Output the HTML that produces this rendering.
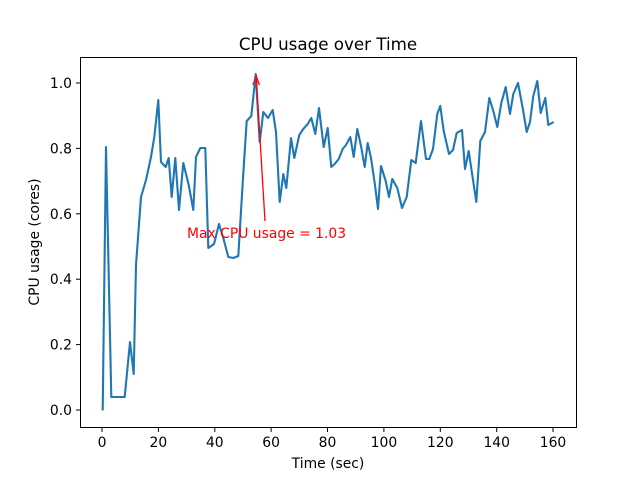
<!DOCTYPE html>
<html><head><style>body{margin:0;background:#fff}svg{display:block}text{font-family:"DejaVu Sans",sans-serif}</style></head><body>
<svg width="640" height="480" viewBox="0 0 640 480" xmlns="http://www.w3.org/2000/svg">
<rect width="640" height="480" fill="#fff"/>
<text x="328" y="50" font-size="16.7" text-anchor="middle">CPU usage over Time</text>
<polyline fill="none" stroke="#1f77b4" stroke-width="2.1" stroke-linejoin="round" stroke-linecap="butt" points="102.7,410.5 106,147 111.3,397 120,397 124.7,397 130,342 133.7,374 136,265 141,197 146,180 151,157 154.3,137 158.3,100 161,162 165.7,167 168.7,158 171.7,197 175.3,158 179,210 183.3,163 188.7,185 193.3,210 196,157 200.3,148 205.3,148 208.3,248 214,244 219,224 223.3,238 228.3,257 233.3,258 238.3,256 242.7,183 246.7,121 251.3,116 255.7,74 259.7,142 263.3,112 268,118 272.7,110 276,132 279.7,202 283.3,174 286.3,188 291,138 294.3,158 299.3,135 303.3,129 307.7,124 311.3,118 315.3,134 319,108 323.7,147 327.7,128 331.3,167 334.7,164 338.7,159 342.7,149 346,145 350.3,137 353.7,157 357.3,129 361,146 364.7,167 367.7,143 371,158 374.7,183 378,209 381,166 385.7,181 389,197 392.3,179 397.3,188 402,208 406.7,197 411.3,160 415.7,163 421,121 426,159 429.3,159 433,149 437.3,114 440.3,106 443.7,131 449,154 453,150 456.7,133 462,130 465,169 468.7,151 476.3,202 480.3,141 485,132 489.3,98 493.3,111 497.3,127 501.3,103 505.7,87 510,114 513.3,94 518,83 522.7,108 526.7,132 530,122 533.3,96 537.3,81 540.7,113 545.3,98 548.3,125 553.7,122"/>
<line x1="265" y1="221" x2="256.3" y2="78" stroke="#f00" stroke-width="1.3"/>
<polyline points="253,85 256.2,76 259.4,85" fill="none" stroke="#f00" stroke-width="1.3"/>
<text x="187" y="238" font-size="13.9" fill="#f00">Max CPU usage = 1.03</text>
<rect x="80.5" y="57.5" width="496" height="370" fill="none" stroke="#000" stroke-width="1"/>
<g stroke="#000" stroke-width="1">
<line x1="102" y1="427.5" x2="102" y2="432"/><line x1="158.4" y1="427.5" x2="158.4" y2="432"/><line x1="214.8" y1="427.5" x2="214.8" y2="432"/><line x1="271.1" y1="427.5" x2="271.1" y2="432"/><line x1="327.5" y1="427.5" x2="327.5" y2="432"/><line x1="383.9" y1="427.5" x2="383.9" y2="432"/><line x1="440.3" y1="427.5" x2="440.3" y2="432"/><line x1="496.7" y1="427.5" x2="496.7" y2="432"/><line x1="553" y1="427.5" x2="553" y2="432"/>
<line x1="76" y1="410" x2="80.5" y2="410"/><line x1="76" y1="344.6" x2="80.5" y2="344.6"/><line x1="76" y1="279.2" x2="80.5" y2="279.2"/><line x1="76" y1="213.8" x2="80.5" y2="213.8"/><line x1="76" y1="148.4" x2="80.5" y2="148.4"/><line x1="76" y1="83" x2="80.5" y2="83"/>
</g>
<g font-size="13.9" text-anchor="middle">
<text x="102" y="447">0</text><text x="158.4" y="447">20</text><text x="214.8" y="447">40</text><text x="271.1" y="447">60</text><text x="327.5" y="447">80</text><text x="383.9" y="447">100</text><text x="440.3" y="447">120</text><text x="496.7" y="447">140</text><text x="553" y="447">160</text>
</g>
<g font-size="13.9" text-anchor="end">
<text x="72" y="415">0.0</text><text x="72" y="349.6">0.2</text><text x="72" y="284.2">0.4</text><text x="72" y="218.8">0.6</text><text x="72" y="153.4">0.8</text><text x="72" y="88">1.0</text>
</g>
<text x="328" y="468" font-size="13.9" text-anchor="middle">Time (sec)</text>
<text transform="translate(39,242) rotate(-90)" font-size="13.9" text-anchor="middle">CPU usage (cores)</text>
</svg>
</body></html>
